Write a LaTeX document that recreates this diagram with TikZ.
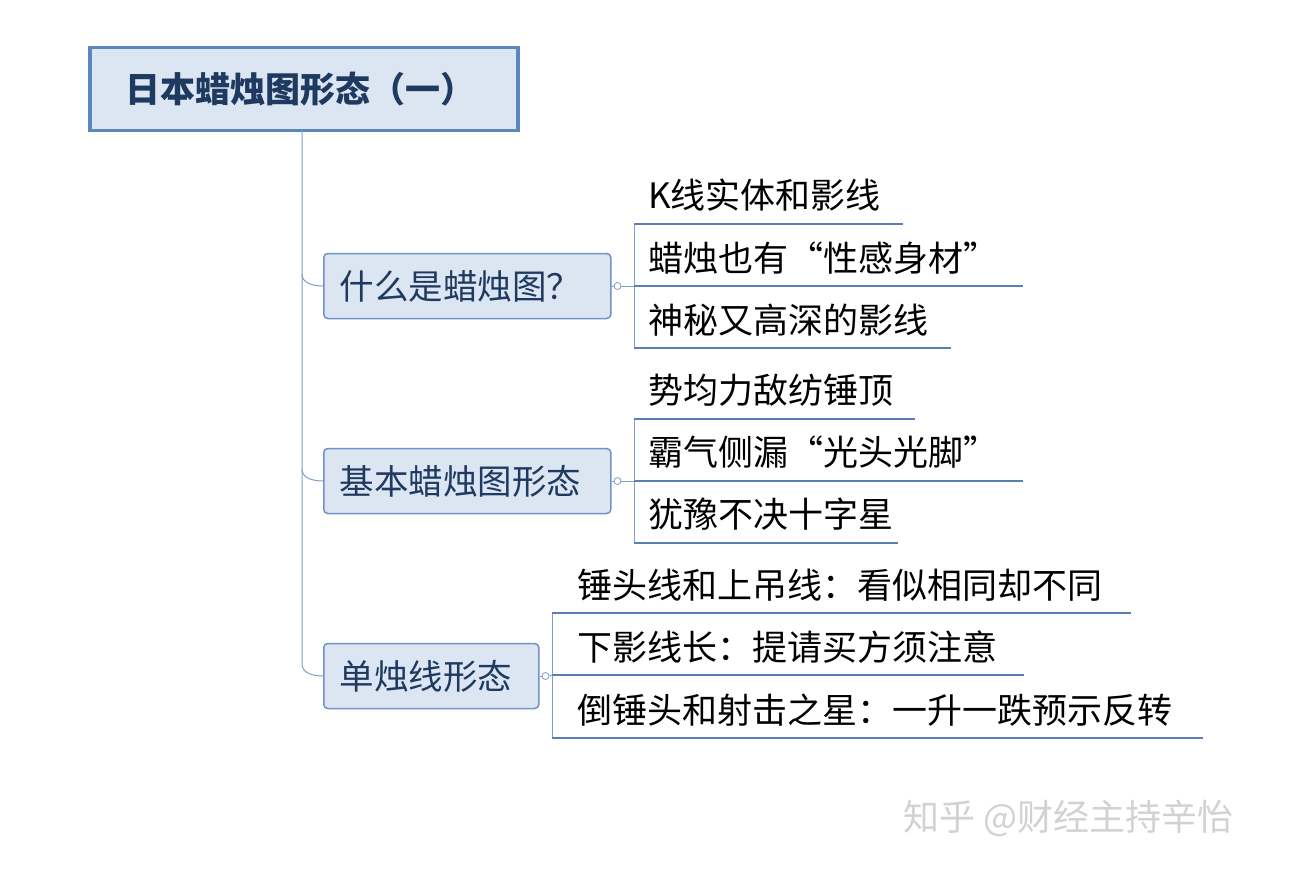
\documentclass[tikz,border=0pt]{standalone}
\usepackage{fontspec}
\setmainfont{Noto Sans CJK SC}
\begin{document}
\begin{tikzpicture}[x=1pt,y=-1pt,
  line/.style={draw=lineblue,line width=1pt},
  leafline/.style={draw=leafblue,line width=2.5pt},
  child/.style={draw=boxblue,line width=1.5pt,fill=boxfill,rounded corners=4pt,anchor=west,minimum height=65pt,inner xsep=16pt,font=\fontsize{34.5}{34.5}\selectfont,text=titletext,align=left},
  leaf/.style={anchor=west,font=\fontsize{35}{35}\selectfont,text=black,inner sep=0pt}]
\definecolor{lineblue}{HTML}{7F9FC8}
\definecolor{leafblue}{HTML}{5B7FB4}
\definecolor{boxblue}{HTML}{6F93C4}
\definecolor{boxfill}{HTML}{DCE6F2}
\definecolor{titletext}{HTML}{1F3A60}
\definecolor{titleborder}{HTML}{5B87BF}
\useasboundingbox[fill=white] (0,0) rectangle (1301,872);
\node[draw=titleborder,line width=3.5pt,fill=boxfill,minimum width=428pt,minimum height=83pt,anchor=north west,text=titletext,font=\bfseries\fontsize{35}{35}\selectfont,inner xsep=36pt,align=left,text width=356pt] (title) at (88,46) {日本蜡烛图形态（一）};
\coordinate (t0) at (302,130);
\node[child,minimum width=287pt,text width=255pt] (c1) at (323,286) {什么是蜡烛图？};
\node[child,minimum width=287pt,text width=255pt] (c2) at (323,481) {基本蜡烛图形态};
\node[child,minimum width=215pt,text width=183pt] (c3) at (323,676) {单烛线形态};
\draw[line] (t0) -- (302,664) to[out=-90,in=180] (c3.west);
\draw[line] (302,274) to[out=-90,in=180] (c1.west);
\draw[line] (302,469) to[out=-90,in=180] (c2.west);
\foreach \c/\bx/\ya/\yb/\yc/\xa/\xb/\xc in {c1/634/224/286/348/903/1023/951, c2/634/419/481/543/915/1023/898, c3/552/613/675/738/1131/1024/1203}{
  \node[draw=lineblue,line width=0.8pt,circle,inner sep=0pt,minimum size=7pt,fill=white] (o\c) at ([xshift=6pt]\c.east) {};
  \draw[line] (\c.east) -- (o\c.west);
  \draw[line] (o\c.east) -- (\bx,\yb);
  \draw[line] (\bx,\ya) -- (\bx,\yc);
  \draw[leafline] (\bx,\ya) -- (\xa,\ya);
  \draw[leafline] (\bx,\yb) -- (\xb,\yb);
  \draw[leafline] (\bx,\yc) -- (\xc,\yc);
}
\node[leaf] (l1) at (648,195) {K线实体和影线};
\node[leaf] (l2) at (648,258) {蜡烛也有“性感身材”};
\node[leaf] (l3) at (648,320) {神秘又高深的影线};
\node[leaf] (l4) at (648,390) {势均力敌纺锤顶};
\node[leaf] (l5) at (648,452) {霸气侧漏“光头光脚”};
\node[leaf] (l6) at (648,514) {犹豫不决十字星};
\node[leaf] (l7) at (577,585) {锤头线和上吊线：看似相同却不同};
\node[leaf] (l8) at (577,647) {下影线长：提请买方须注意};
\node[leaf] (l9) at (577,710) {倒锤头和射击之星：一升一跌预示反转};
\node[anchor=west,font=\fontsize{36}{36}\selectfont,text=gray!35,inner sep=0pt] (wm) at (903,818) {知乎 @财经主持辛怡};
\end{tikzpicture}
\end{document}
